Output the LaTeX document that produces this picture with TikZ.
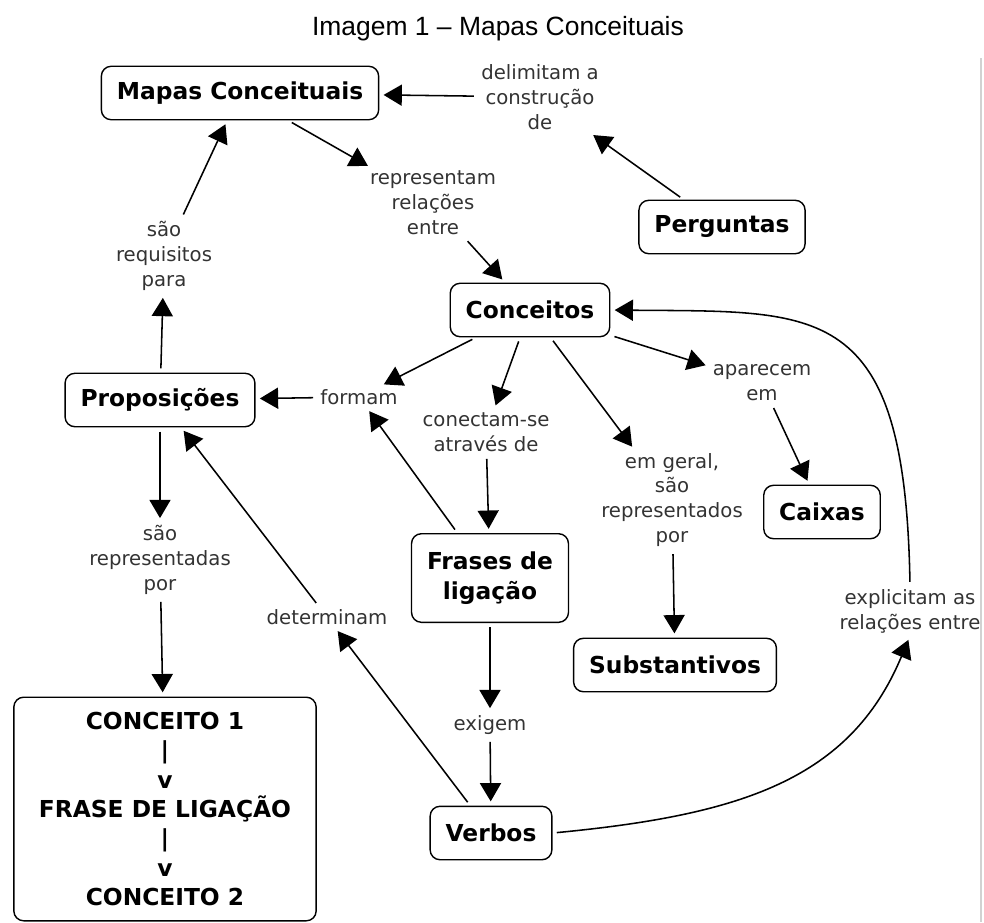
\documentclass[tikz,border=0pt]{standalone}
\usepackage{fontspec}
\setmainfont{DejaVu Sans}
\newfontfamily\titlefont{Liberation Sans}
\usetikzlibrary{arrows.meta}

\begin{document}
\begin{tikzpicture}[x=0.025cm, y=-0.025cm,
	concept/.style={draw, rounded corners=7pt, line width=1pt, inner xsep=11pt, minimum height=38pt, align=center, font=\fontsize{16.6}{21}\selectfont\bfseries},
	phrase/.style={inner sep=2pt, align=center, text=black!80, font=\fontsize{14}{17.7}\selectfont},
	link/.style={line width=1.1pt, -{Triangle[length=13pt,width=15pt]}, shorten <=3pt, shorten >=3pt}]
	\useasboundingbox (0,0) rectangle (984,922);

	\node (title) at (498,29) {\titlefont\fontsize{18.8}{22}\selectfont Imagem 1 – Mapas Conceituais};
	\draw[gray!35, line width=1pt] (981,58) -- (981,922);

	\node[concept] (mapas) at (240,93) {Mapas Conceituais};
	\node[concept] (perg) at (722,227) {Perguntas};
	\node[concept] (conc) at (530,310) {Conceitos};
	\node[concept] (prop) at (160,400) {Proposições};
	\node[concept] (caixas) at (822,512) {Caixas};
	\node[concept, minimum height=63pt] (frases) at (490,578) {Frases de\\ligação};
	\node[concept] (subst) at (675,665) {Substantivos};
	\node[concept] (verbos) at (491,833) {Verbos};
	\node[concept, minimum width=215pt, minimum height=159pt, font=\fontsize{16.6}{20.9}\selectfont\bfseries] (modelo) at (165,809) {CONCEITO 1\\|\\v\\FRASE DE LIGAÇÃO\\|\\v\\CONCEITO 2};

	\node[phrase] (delim) at (540,97) {delimitam a\\construção\\de};
	\node[phrase] (repr) at (433,203) {representam\\relações\\entre};
	\node[phrase] (req) at (164,256) {são\\requisitos\\para};
	\node[phrase] (formam) at (359,397) {formam};
	\node[phrase] (conect) at (486,432) {conectam-se\\através de};
	\node[phrase] (aparec) at (762,383) {aparecem\\em};
	\node[phrase] (geral) at (672,500) {em geral,\\são\\representados\\por};
	\node[phrase] (reprpor) at (160,560) {são\\representadas\\por};
	\node[phrase] (determ) at (327,617) {determinam};
	\node[phrase] (exigem) at (490,725) {exigem};
	\node[phrase] (explic) at (910,611) {explicitam as\\relações entre};

	\foreach \a/\b in {perg/delim, delim/mapas, mapas/repr, repr/conc, req/mapas, prop/req, conc/formam, formam/prop, conc/conect, conect/frases, frases/formam, conc/geral, geral/subst, conc/aparec, aparec/caixas, prop/reprpor, reprpor/modelo, frases/exigem, exigem/verbos, verbos/determ, determ/prop}{
		\draw[link] (\a) -- (\b);
	}

	\draw[link] (verbos.east) .. controls (740,815) and (850,780) .. (explic.south);
	\draw[link] (explic.north) .. controls (905,300) and (820,312) .. (conc.east);
\end{tikzpicture}
\end{document}
